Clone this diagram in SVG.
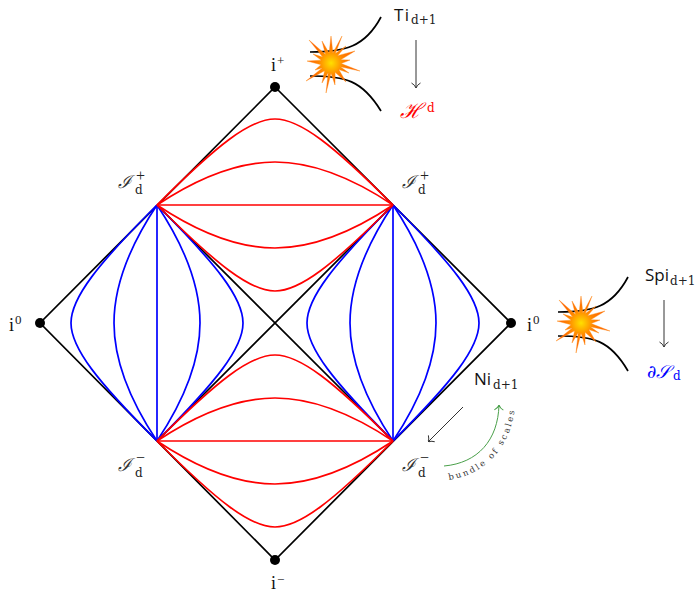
<svg xmlns="http://www.w3.org/2000/svg" width="698" height="592" viewBox="0 0 698 592">
<style>
.k{fill:none;stroke:#000;stroke-width:1.7}
.r{fill:none;stroke:#f00;stroke-width:1.7}
.b{fill:none;stroke:#00f;stroke-width:1.7}
.a{fill:none;stroke:#333;stroke-width:1}
.t{font-family:"Open Sans","Noto Sans",sans-serif;font-size:17px;fill:#111}
.s{font-family:"DejaVu Serif",serif;font-size:12px;fill:#222}
.i{font-family:"Liberation Serif",serif;font-size:18px;fill:#111}
.u{font-family:"Liberation Serif",serif;font-size:13px;fill:#222}
.v{font-family:"Liberation Serif",serif;font-size:16px;fill:#222}
.m{font-family:"DejaVu Serif",serif;font-style:italic;font-size:18px;fill:#333}
</style>
<defs>
<radialGradient id="g" gradientUnits="userSpaceOnUse" cx="0" cy="0" r="30"><stop offset="0" stop-color="#ffe000"/><stop offset=".2" stop-color="#ffb400"/><stop offset=".42" stop-color="#ff8400"/><stop offset="1" stop-color="#ff4a00"/></radialGradient>
<g id="star"><polygon fill="url(#g)" stroke="#ff8c10" stroke-width=".4" points="0,-27 1.9,-10 11,-27 4.4,-9.5 15,-17 6.5,-7.3 24,-12 9.7,-3.2 19,-3 10.2,.6 29,8 9.4,3.8 18,10 7.8,6.5 15,19 4.1,9.3 4,22 0,10.2 -5,30 -2.8,9.7 -9,20 -6.4,7.8 -25,18 -8.7,5.1 -16,7 -10,1.7 -24,-2 -9.7,-2.8 -18,-9 -8.3,-5.9 -22,-23 -5.5,-8.6 -9,-22 -1.9,-10"/></g>
<marker id="ah" viewBox="0 0 10 10" refX="10" refY="5" markerWidth="10" markerHeight="10" orient="auto" markerUnits="userSpaceOnUse"><path d="M5,.5 Q7,4 10,5 Q7,6 5,9.5" fill="none" stroke="#333" stroke-width="1"/></marker>
<marker id="ag" viewBox="0 0 10 10" refX="10" refY="5" markerWidth="10" markerHeight="10" orient="auto" markerUnits="userSpaceOnUse"><path d="M5,.5 Q7,4 10,5 Q7,6 5,9.5" fill="none" stroke="#4aa04a" stroke-width="1"/></marker>
<path id="arc" d="M449,480 C487,474 514,446 516,396"/>
<path id="c1" d="M0,0 C60,-60 93,-86 118,-86 C143,-86 176,-60 236,0"/>
<path id="c2" d="M0,0 C45,-30 83,-43 118,-43 C153,-43 191,-30 236,0"/>
<path id="c3" d="M0,0 H236"/>
<g id="fan"><use href="#c3"/><use href="#c2"/><use href="#c1"/><use href="#c2" transform="scale(1,-1)"/><use href="#c1" transform="scale(1,-1)"/></g>
</defs>
<g id="connectors">
<path class="k" d="M275,87 L511,323 L275,560 L40,323 Z M157,205 L393,441 M393,205 L157,441"/>
<use class="b" href="#fan" transform="matrix(0 1 1 0 157 205)"/>
<use class="b" href="#fan" transform="matrix(0 1 1 0 393 205)"/>
<use class="r" href="#fan" transform="translate(157,205)"/>
<use class="r" href="#fan" transform="translate(157,441)"/>
<path class="a" d="M416,40 V88" marker-end="url(#ah)"/>
<path class="a" d="M664,300 V347" marker-end="url(#ah)"/>
<path class="a" d="M463,407 L428,442" marker-end="url(#ah)"/>
<path fill="none" stroke="#4aa04a" d="M444,466 C478,463 498,440 499,405" marker-end="url(#ag)"/>
<path class="k" d="M310,52 C345,52 365,47 381,17"/>
<path class="k" d="M310,76 C345,76 362,80 381,111"/>
<path class="k" d="M558,312 C593,312 612,307 628,277"/>
<path class="k" d="M558,336 C593,336 610,340 628,371"/>
</g>
<g id="n-top"><circle cx="275" cy="87" r="5"/><text class="i" x="271" y="71">i</text><text class="u" x="277" y="65">+</text></g>
<g id="n-bottom"><circle cx="275" cy="560" r="5"/><text class="i" x="271" y="589">i</text><text class="u" x="277" y="584">−</text></g>
<g id="n-left"><circle cx="40" cy="323" r="5"/><text class="i" x="9" y="331">i</text><text class="u" x="15" y="324">0</text></g>
<g id="n-right"><circle cx="511" cy="323" r="5"/><text class="i" x="527" y="331">i</text><text class="u" x="533" y="324">0</text></g>
<g id="scri-tl"><text class="m" x="118" y="188">ℐ</text><text class="v" x="136" y="181">+</text><text class="s" x="135" y="194">d</text></g>
<g id="scri-tr"><text class="m" x="402" y="188">ℐ</text><text class="v" x="420" y="181">+</text><text class="s" x="418" y="194">d</text></g>
<g id="scri-bl"><text class="m" x="118" y="471">ℐ</text><text class="v" x="136" y="463">−</text><text class="s" x="135" y="477">d</text></g>
<g id="scri-br"><text class="m" x="402" y="471">ℐ</text><text class="v" x="420" y="463">−</text><text class="s" x="418" y="477">d</text></g>
<g id="timelike"><use href="#star" x="331" y="63"/><text class="t" x="394" y="21" letter-spacing="1.5">Ti</text><text class="s" x="411" y="24">d+1</text><text class="m" x="400" y="118" style="fill:#f00;font-size:21px">ℋ</text><text class="s" x="427" y="112" style="fill:#f00">d</text></g>
<g id="spacelike"><use href="#star" x="581" y="323"/><text class="t" x="645" y="281">Spi</text><text class="s" x="670" y="285">d+1</text><text class="m" x="647" y="378" style="fill:#00f">∂𝒮</text><text class="s" x="673" y="380" style="fill:#00f">d</text></g>
<g id="null"><text class="t" x="474" y="385">Ni</text><text class="s" x="493" y="389">d+1</text>
<text font-family="DejaVu Serif,serif" font-size="8.5" letter-spacing="2.2" fill="#333"><textPath href="#arc">bundle of scales</textPath></text></g>
</svg>
